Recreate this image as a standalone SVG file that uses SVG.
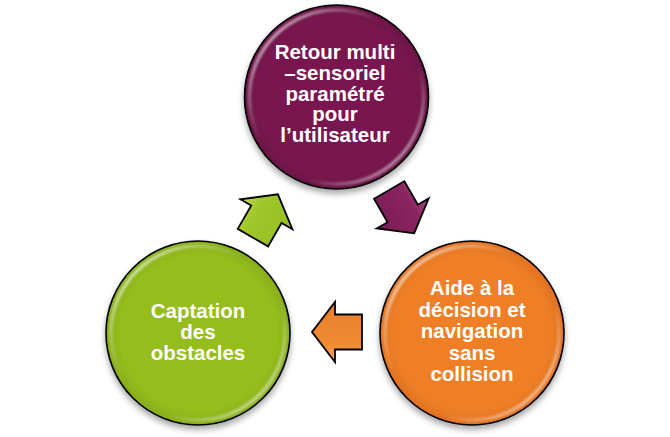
<svg xmlns="http://www.w3.org/2000/svg" width="670" height="437" viewBox="0 0 670 437">
<defs>
<style>
.lbl{font-family:"Liberation Sans",Arial,sans-serif;font-weight:bold;font-size:20.5px;fill:#ffffff;text-anchor:middle}
.disc{stroke:#000;stroke-width:1.6}
.rim{fill:none;stroke:url(#rim);stroke-width:3.5}
.arr{stroke:#000;stroke-width:1.8;stroke-linejoin:miter}
</style>
<linearGradient id="rim" x1="0" y1="0" x2="1" y2="1">
<stop offset="0" stop-color="#fff" stop-opacity="0.95"/>
<stop offset="0.22" stop-color="#fff" stop-opacity="0.35"/>
<stop offset="0.4" stop-color="#fff" stop-opacity="0"/>
<stop offset="0.65" stop-color="#fff" stop-opacity="0"/>
<stop offset="0.85" stop-color="#fff" stop-opacity="0.45"/>
<stop offset="1" stop-color="#fff" stop-opacity="0.9"/>
</linearGradient>
<radialGradient id="gm" cx="0.5" cy="0.5" r="0.5">
<stop offset="0.85" stop-color="#7a1650"/>
<stop offset="1" stop-color="#6a1145"/>
</radialGradient>
<radialGradient id="go" cx="0.5" cy="0.5" r="0.5">
<stop offset="0.85" stop-color="#ee7f27"/>
<stop offset="1" stop-color="#e07020"/>
</radialGradient>
<radialGradient id="gg" cx="0.5" cy="0.5" r="0.5">
<stop offset="0.85" stop-color="#95bd1f"/>
<stop offset="1" stop-color="#87ad18"/>
</radialGradient>
<linearGradient id="am" x1="0" y1="0" x2="0" y2="1">
<stop offset="0" stop-color="#b04a88"/>
<stop offset="0.3" stop-color="#8a2562"/>
<stop offset="1" stop-color="#7a1a55"/>
</linearGradient>
<linearGradient id="ao" x1="0" y1="0" x2="0" y2="1">
<stop offset="0" stop-color="#f8a860"/>
<stop offset="0.3" stop-color="#f08a32"/>
<stop offset="1" stop-color="#e8802c"/>
</linearGradient>
<linearGradient id="ag" x1="0" y1="0" x2="0" y2="1">
<stop offset="0" stop-color="#c4e05a"/>
<stop offset="0.3" stop-color="#a0c82a"/>
<stop offset="1" stop-color="#96be22"/>
</linearGradient>
<filter id="shadow" x="-20%" y="-20%" width="140%" height="150%">
<feGaussianBlur in="SourceAlpha" stdDeviation="3"/>
<feOffset dy="4" result="b"/>
<feComponentTransfer><feFuncA type="linear" slope="0.35"/></feComponentTransfer>
<feMerge><feMergeNode/><feMergeNode in="SourceGraphic"/></feMerge>
</filter>
<filter id="soft" x="-10%" y="-10%" width="120%" height="120%">
<feGaussianBlur stdDeviation="1.2"/>
</filter>
<path id="arrow" d="M -25,-17.5 L 2,-17.5 L 2,-30 L 25,0 L 2,30 L 2,17.5 L -25,17.5 Z"/>
</defs>
<rect width="670" height="437" fill="#ffffff"/>

<g id="connectors">
<g transform="translate(401.7,211.7) rotate(60)">
<use href="#arrow" class="arr" fill="url(#am)"/>
<path d="M -18,-13 L -2,-13" stroke="#e8a8d0" stroke-width="2.5" opacity="0.8" filter="url(#soft)"/>
</g>
<g transform="translate(337,332) rotate(180)">
<use href="#arrow" class="arr" fill="url(#ao)"/>
<path d="M -18,13 L -2,13" stroke="#fde0c0" stroke-width="2.5" opacity="0.8" filter="url(#soft)"/>
</g>
<g transform="translate(265.4,216) rotate(-60)">
<use href="#arrow" class="arr" fill="url(#ag)"/>
<path d="M -18,13 L -2,13" stroke="#f0ffc0" stroke-width="2.5" opacity="0.8" filter="url(#soft)"/>
</g>
</g>

<g id="node-retour">
<circle cx="336.5" cy="97" r="92" class="disc" fill="url(#gm)" filter="url(#shadow)"/>
<circle cx="336.5" cy="97" r="87" class="rim" filter="url(#soft)"/>
<text class="lbl" x="335" y="59"><tspan x="335">Retour multi</tspan><tspan x="335" dy="20.8">–sensoriel</tspan><tspan x="335" dy="20.8">paramétré</tspan><tspan x="335" dy="20.8">pour</tspan><tspan x="335" dy="20.8">l’utilisateur</tspan></text>
</g>

<g id="node-aide">
<circle cx="472" cy="333" r="92" class="disc" fill="url(#go)" filter="url(#shadow)"/>
<circle cx="472" cy="333" r="87" class="rim" filter="url(#soft)"/>
<text class="lbl" x="472" y="295"><tspan x="472">Aide à la</tspan><tspan x="472" dy="21.5">décision et</tspan><tspan x="472" dy="21.5">navigation</tspan><tspan x="472" dy="21.5">sans</tspan><tspan x="472" dy="21.5">collision</tspan></text>
</g>

<g id="node-captation">
<circle cx="198" cy="333" r="92" class="disc" fill="url(#gg)" filter="url(#shadow)"/>
<circle cx="198" cy="333" r="87" class="rim" filter="url(#soft)"/>
<text class="lbl" x="198" y="318"><tspan x="198">Captation</tspan><tspan x="198" dy="21">des</tspan><tspan x="198" dy="21">obstacles</tspan></text>
</g>
</svg>
